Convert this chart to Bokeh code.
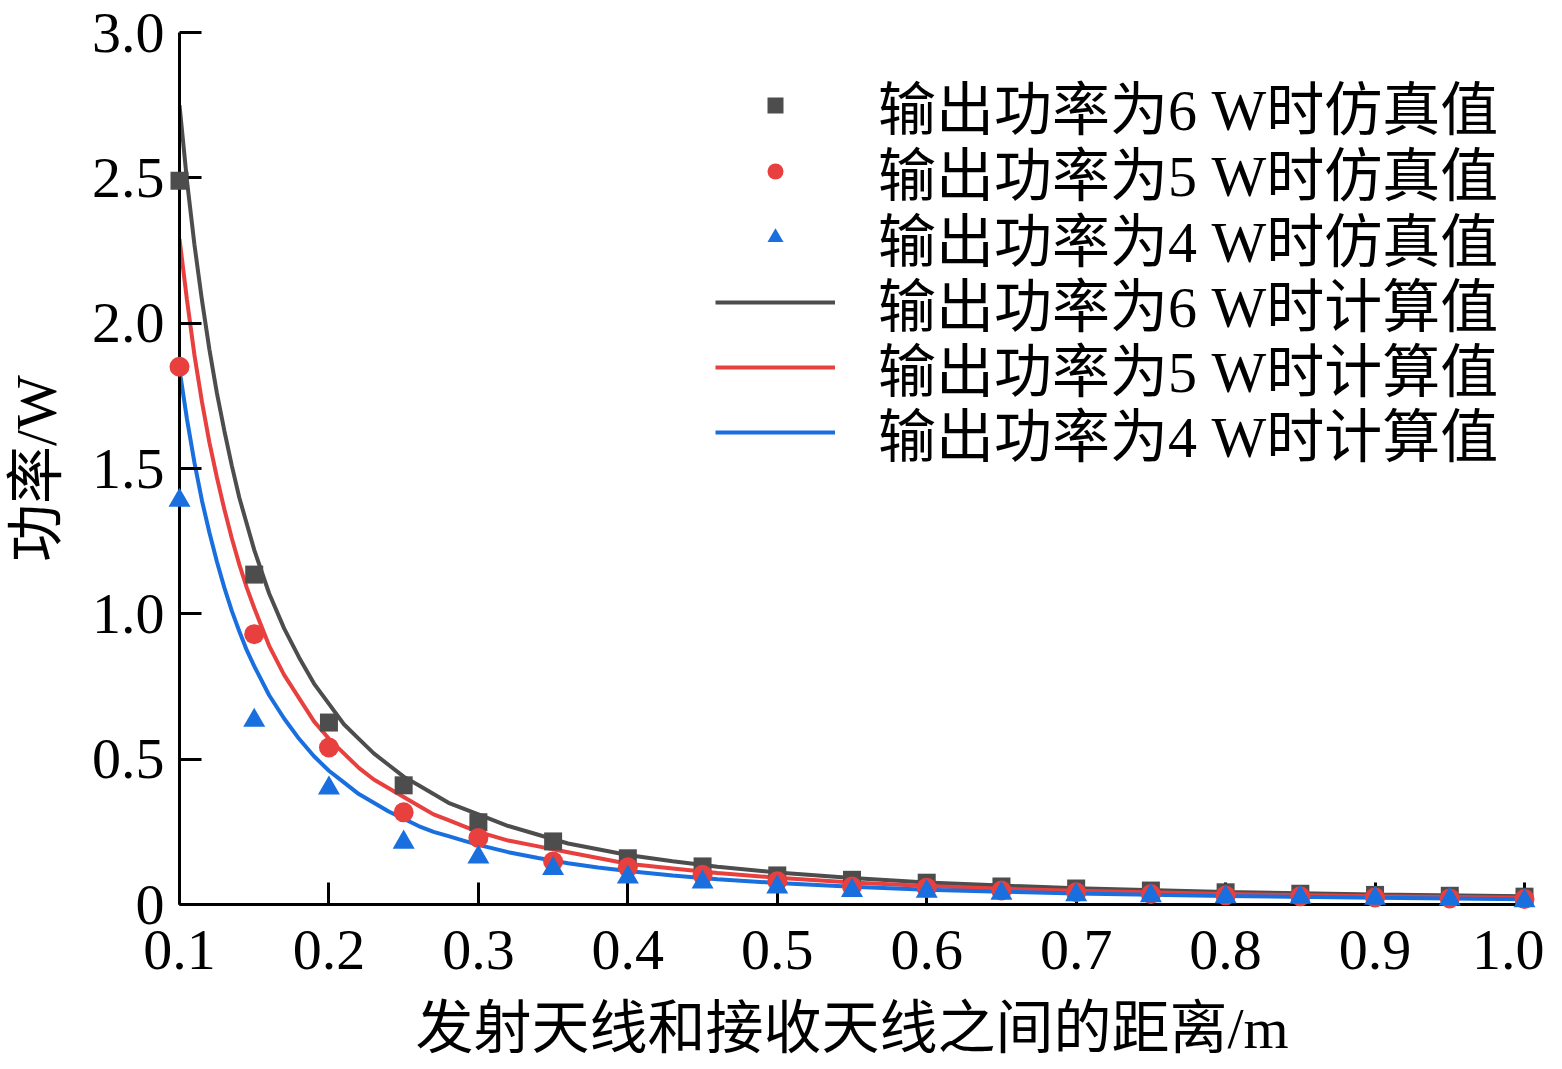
from bokeh.plotting import figure
from bokeh.models import Legend, LegendItem, FixedTicker, Range1d, NumeralTickFormatter
from bokeh.embed import file_html
from bokeh.resources import INLINE

# simulated values (markers)
x_sim = [0.10, 0.15, 0.20, 0.25, 0.30, 0.35, 0.40, 0.45, 0.50, 0.55,
         0.60, 0.65, 0.70, 0.75, 0.80, 0.85, 0.90, 0.95, 1.00]
p6_sim = [2.49, 1.135, 0.626, 0.41, 0.283, 0.217, 0.159, 0.131, 0.100, 0.085,
          0.075, 0.062, 0.055, 0.048, 0.042, 0.037, 0.033, 0.030, 0.027]
p5_sim = [1.85, 0.93, 0.54, 0.317, 0.229, 0.148, 0.128, 0.102, 0.080, 0.062,
          0.058, 0.048, 0.042, 0.036, 0.031, 0.028, 0.024, 0.021, 0.019]
p4_sim = [1.39, 0.633, 0.40, 0.214, 0.163, 0.123, 0.094, 0.077, 0.060, 0.048,
          0.045, 0.038, 0.033, 0.030, 0.026, 0.024, 0.021, 0.018, 0.012]

# calculated values (curves)
x_calc = [0.10, 0.105, 0.11, 0.115, 0.12, 0.125, 0.13, 0.135, 0.14, 0.145,
          0.15, 0.16, 0.17, 0.18, 0.19, 0.20, 0.21, 0.22, 0.23, 0.24,
          0.25, 0.26, 0.27, 0.28, 0.29, 0.30, 0.32, 0.34, 0.36, 0.38,
          0.40, 0.43, 0.46, 0.50, 0.55, 0.60, 0.65, 0.70, 0.80, 0.90, 1.00]
p6_calc = [2.75, 2.49, 2.27, 2.08, 1.91, 1.76, 1.63, 1.51, 1.40, 1.31,
           1.22, 1.07, 0.95, 0.85, 0.76, 0.69, 0.62, 0.57, 0.52, 0.48,
           0.44, 0.41, 0.38, 0.35, 0.33, 0.31, 0.27, 0.24, 0.21, 0.19,
           0.17, 0.149, 0.130, 0.11, 0.091, 0.076, 0.065, 0.056, 0.043, 0.034, 0.028]
p5_calc = [2.29, 2.08, 1.89, 1.73, 1.59, 1.47, 1.36, 1.26, 1.17, 1.09,
           1.02, 0.89, 0.79, 0.71, 0.63, 0.57, 0.52, 0.47, 0.43, 0.40,
           0.37, 0.34, 0.31, 0.29, 0.27, 0.25, 0.22, 0.20, 0.18, 0.16,
           0.14, 0.124, 0.108, 0.092, 0.076, 0.064, 0.054, 0.047, 0.036, 0.028, 0.023]
p4_calc = [1.84, 1.67, 1.52, 1.39, 1.28, 1.18, 1.09, 1.01, 0.94, 0.875,
           0.82, 0.72, 0.64, 0.57, 0.51, 0.46, 0.42, 0.38, 0.35, 0.32,
           0.295, 0.27, 0.25, 0.235, 0.22, 0.205, 0.18, 0.16, 0.142, 0.127,
           0.115, 0.10, 0.087, 0.074, 0.061, 0.051, 0.044, 0.038, 0.029, 0.023, 0.018]

x_ticks = [0.1, 0.2, 0.3, 0.4, 0.5, 0.6, 0.7, 0.8, 0.9, 1.0]
y_ticks = [0, 0.5, 1.0, 1.5, 2.0, 2.5, 3.0]

labels = ["输出功率为6 W时仿真值", "输出功率为5 W时仿真值", "输出功率为4 W时仿真值",
          "输出功率为6 W时计算值", "输出功率为5 W时计算值", "输出功率为4 W时计算值"]

GRAY = "#4d4d4d"
RED = "#e8403f"
BLUE = "#1a6fdf"
FONT = "'Liberation Serif', 'Noto Sans CJK SC'"
FS = "58px"

p = figure(frame_width=1345, frame_height=872,
           min_border_left=171, min_border_top=32, min_border_right=20, min_border_bottom=10,
           x_range=Range1d(0.1, 1.0), y_range=Range1d(0, 3.0),
           output_backend="svg", toolbar_location=None)

p.outline_line_color = None
p.grid.visible = False
p.background_fill_color = "white"
p.border_fill_color = "white"

l6 = p.line(x_calc, p6_calc, line_color=GRAY, line_width=4)
l5 = p.line(x_calc, p5_calc, line_color=RED, line_width=4)
l4 = p.line(x_calc, p4_calc, line_color=BLUE, line_width=4)
s6 = p.scatter(x_sim, p6_sim, marker="square", size=18, fill_color=GRAY, line_color=None)
s5 = p.scatter(x_sim, p5_sim, marker="circle", size=20, fill_color=RED, line_color=None)
s4 = p.scatter(x_sim, p4_sim, marker="triangle", size=22, fill_color=BLUE, line_color=None)
for r in (s6, s5, s4):
    r.level = "overlay"

for ax in (p.xaxis[0], p.yaxis[0]):
    ax.axis_line_width = 3
    ax.axis_line_color = "black"
    ax.major_tick_line_width = 3
    ax.major_tick_line_color = "black"
    ax.major_tick_in = 22
    ax.major_tick_out = 0
    ax.minor_tick_line_color = None
    ax.major_label_text_font = FONT
    ax.major_label_text_font_size = FS
    ax.major_label_text_color = "black"
    ax.axis_label_text_font = FONT
    ax.axis_label_text_font_size = FS
    ax.axis_label_text_font_style = "normal"
    ax.axis_label_text_color = "black"

p.xaxis.ticker = FixedTicker(ticks=x_ticks)
p.yaxis.ticker = FixedTicker(ticks=y_ticks)
p.xaxis.formatter = NumeralTickFormatter(format="0.0")
p.yaxis.formatter = NumeralTickFormatter(format="0.0")
p.yaxis.major_label_overrides = {0: "0"}
p.xaxis.major_label_standoff = 26
p.yaxis.major_label_standoff = 15
p.xaxis.axis_label = "发射天线和接收天线之间的距离/m"
p.yaxis.axis_label = "功率/W"
p.xaxis.axis_label_standoff = 24
p.yaxis.axis_label_standoff = 20

# one legend per row so that the row pitch matches the reference
renderers = [s6, s5, s4, l6, l5, l4]
row_offsets = [754, 688, 622, 557, 492, 427]
for lab, r, oy in zip(labels, renderers, row_offsets):
    lg = Legend(items=[LegendItem(label=lab, renderers=[r])], location=(536, oy))
    lg.margin = 0
    lg.padding = 0
    lg.spacing = 0
    lg.glyph_width = 120
    lg.glyph_height = 40
    lg.label_height = 90
    lg.label_standoff = 43
    lg.label_text_font = FONT
    lg.label_text_font_size = FS
    lg.label_text_color = "black"
    lg.border_line_color = None
    lg.background_fill_alpha = 0
    p.add_layout(lg, "center")

open("out.html", "w").write(file_html(p, INLINE))
